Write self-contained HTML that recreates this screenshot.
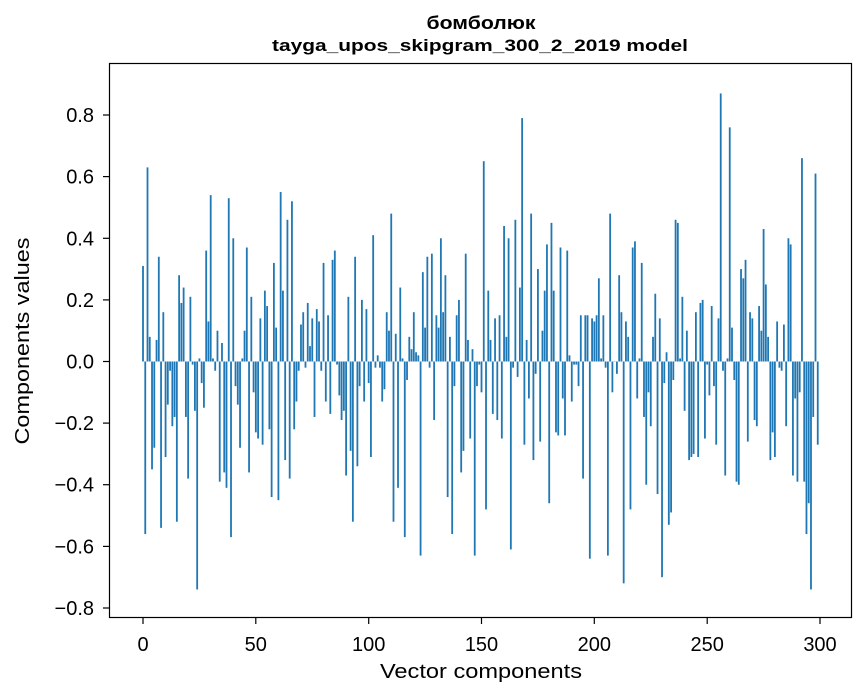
<!DOCTYPE html>
<html><head><meta charset="utf-8"><style>
html,body{margin:0;padding:0;background:#fff;}
svg{display:block;font-family:"Liberation Sans","DejaVu Sans",sans-serif;}
</style></head><body>
<svg id="s" width="867" height="696" viewBox="0 0 867 696" xmlns="http://www.w3.org/2000/svg">
<rect width="867" height="696" fill="#fff"/>
<text x="481" y="29" text-anchor="middle" font-size="18" font-weight="bold" textLength="109" lengthAdjust="spacingAndGlyphs">бомболюк</text>
<text x="480" y="51" text-anchor="middle" font-size="17" font-weight="bold" textLength="416" lengthAdjust="spacingAndGlyphs">tayga_upos_skipgram_300_2_2019 model</text>
<g id="bars" fill="#1f77b4"></g>
<rect x="109.5" y="63.5" width="742" height="554" fill="none" stroke="#000" stroke-width="1.2"/>
<g stroke="#000" stroke-width="1.2">
<line x1="143" y1="618" x2="143" y2="624"/><line x1="255.8" y1="618" x2="255.8" y2="624"/><line x1="368.7" y1="618" x2="368.7" y2="624"/><line x1="481.5" y1="618" x2="481.5" y2="624"/><line x1="594.3" y1="618" x2="594.3" y2="624"/><line x1="707.2" y1="618" x2="707.2" y2="624"/><line x1="820" y1="618" x2="820" y2="624"/>
<line x1="103" y1="115" x2="109" y2="115"/><line x1="103" y1="176.6" x2="109" y2="176.6"/><line x1="103" y1="238.3" x2="109" y2="238.3"/><line x1="103" y1="299.9" x2="109" y2="299.9"/><line x1="103" y1="361.5" x2="109" y2="361.5"/><line x1="103" y1="423.1" x2="109" y2="423.1"/><line x1="103" y1="484.7" x2="109" y2="484.7"/><line x1="103" y1="546.4" x2="109" y2="546.4"/><line x1="103" y1="608" x2="109" y2="608"/>
</g>
<g font-size="20" text-anchor="middle">
<text x="143" y="651">0</text><text x="255.8" y="651">50</text><text x="368.7" y="651">100</text><text x="481.5" y="651">150</text><text x="594.3" y="651">200</text><text x="707.2" y="651">250</text><text x="820" y="651">300</text>
</g>
<g font-size="20" text-anchor="end">
<text x="94" y="122">0.8</text><text x="94" y="183.6">0.6</text><text x="94" y="245.3">0.4</text><text x="94" y="306.9">0.2</text><text x="94" y="368.5">0.0</text><text x="94" y="430.1">−0.2</text><text x="94" y="491.7">−0.4</text><text x="94" y="553.4">−0.6</text><text x="94" y="615">−0.8</text>
</g>
<text x="481" y="678" text-anchor="middle" font-size="20" textLength="202" lengthAdjust="spacingAndGlyphs">Vector components</text>
<text transform="translate(29,341) rotate(-90)" text-anchor="middle" font-size="20" textLength="207" lengthAdjust="spacingAndGlyphs">Components values</text>
</svg>
<script>
var v=[0.31,-0.56,0.63,0.08,-0.35,-0.28,0.07,0.34,-0.54,0.16,-0.31,-0.14,-0.03,-0.21,-0.18,-0.52,0.28,0.19,0.24,-0.18,-0.38,0.21,-0.01,-0.16,-0.74,0.01,-0.07,-0.15,0.36,0.13,0.54,0.01,-0.03,0.10,-0.39,0.06,-0.36,-0.41,0.53,-0.57,0.40,-0.08,-0.14,-0.28,0.01,0.10,0.37,-0.36,0.21,-0.10,
-0.23,-0.25,0.14,-0.27,0.23,0.18,-0.22,-0.44,0.32,0.11,-0.45,0.55,0.23,-0.32,0.46,-0.38,0.52,-0.22,-0.13,-0.03,0.12,0.16,-0.02,0.19,0.05,0.14,-0.18,0.17,0.13,-0.03,0.32,-0.13,0.15,-0.17,0.33,0.36,-0.01,-0.11,-0.19,-0.16,-0.37,0.21,-0.29,-0.52,0.34,-0.34,-0.08,0.20,-0.13,0.17,
-0.07,-0.31,0.41,-0.02,0.02,-0.02,-0.13,-0.09,0.16,0.10,0.48,-0.52,0.09,-0.41,0.24,0.01,-0.57,-0.06,0.08,0.04,0.16,0.03,0.02,-0.63,0.29,0.11,0.34,-0.02,0.35,-0.19,0.15,0.11,0.40,0.16,0.28,-0.44,0.08,-0.56,-0.08,0.15,0.20,-0.36,-0.29,0.35,0.07,-0.25,0.04,-0.63,-0.08,-0.01,
-0.10,0.65,-0.48,0.23,0.07,-0.17,0.14,-0.19,0.15,-0.25,0.44,0.08,0.40,-0.61,-0.02,0.46,-0.05,0.24,0.79,-0.27,0.07,-0.12,0.48,-0.32,-0.04,0.30,-0.26,0.10,0.23,0.38,-0.46,0.45,0.23,-0.23,-0.24,0.37,-0.12,-0.24,0.36,0.02,-0.13,-0.01,-0.01,-0.08,0.15,-0.38,0.15,0.15,-0.64,0.14,
0.13,0.15,0.27,0.01,0.15,-0.02,-0.63,0.48,-0.10,0.00,-0.04,0.28,0.16,-0.72,0.13,0.08,-0.48,0.37,0.39,-0.12,0.01,0.32,-0.18,-0.40,-0.10,-0.21,0.08,0.22,-0.43,0.14,-0.70,-0.07,0.03,-0.53,-0.49,-0.06,0.46,0.45,0.01,0.21,-0.16,0.10,-0.32,-0.31,-0.30,0.16,-0.31,0.19,0.20,-0.25,
-0.01,-0.11,0.18,-0.08,-0.27,0.14,0.87,-0.03,-0.37,0.01,0.76,0.11,-0.06,-0.39,-0.40,0.30,0.27,0.33,-0.26,0.16,0.14,-0.19,-0.21,0.18,0.10,0.43,0.25,0.08,-0.32,-0.23,-0.31,0.13,-0.02,-0.03,0.12,-0.21,0.40,0.38,-0.37,-0.12,-0.39,-0.10,0.66,-0.39,-0.56,-0.46,-0.74,-0.18,0.61,-0.27];
var g=document.getElementById('bars'),h='';
for(var i=0;i<v.length;i++){var x=143+i*2.2567-0.9,y0=361.5,y=y0-v[i]*308.1;
h+='<rect x="'+x.toFixed(2)+'" y="'+Math.min(y,y0).toFixed(2)+'" width="1.8" height="'+Math.max(Math.abs(y-y0),0.3).toFixed(2)+'"/>';}
g.innerHTML=h;
</script>
</body></html>
